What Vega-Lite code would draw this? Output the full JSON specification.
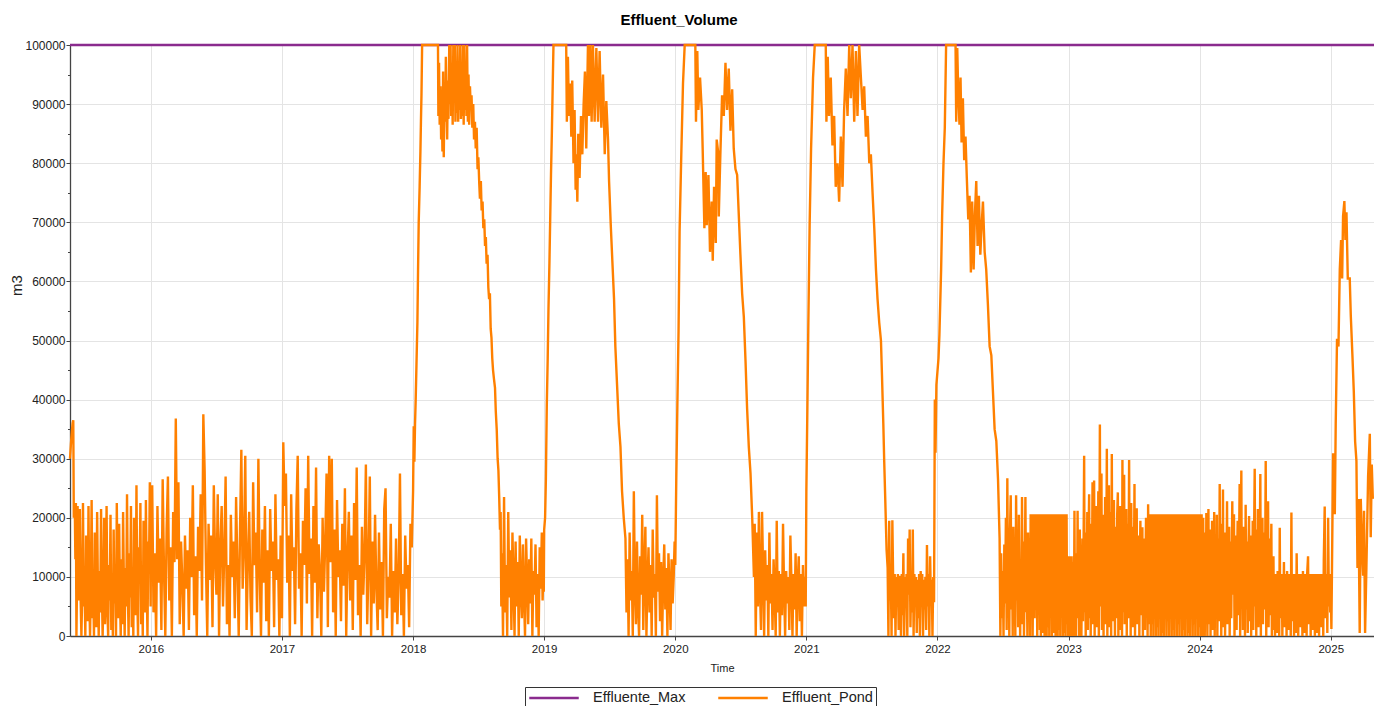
{
  "$schema": "https://vega.github.io/schema/vega-lite/v6.json",
  "width": 1304,
  "height": 591,
  "autosize": {"type": "none"},
  "padding": {"left": 70, "top": 45, "right": 0, "bottom": 70},
  "background": "white",
  "title": {
    "text": "Effluent_Volume",
    "font": "Liberation Sans",
    "fontSize": 15,
    "fontWeight": "bold",
    "color": "#000000",
    "anchor": "middle",
    "baseline": "alphabetic",
    "dx": -43,
    "dy": 14,
    "offset": 13
  },
  "config": {
    "font": "Liberation Sans",
    "view": {"stroke": null},
    "axis": {
      "gridColor": "#e4e4e4",
      "gridWidth": 1,
      "labelColor": "#222222",
      "titleColor": "#222222",
      "titleFontWeight": "normal",
      "tickColor": "#444444",
      "domainColor": "#444444",
      "domainWidth": 1.3
    },
    "legend": {
      "orient": "none",
      "legendX": 455,
      "legendY": 642,
      "direction": "horizontal",
      "strokeColor": "#333333",
      "fillColor": "white",
      "padding": 3,
      "symbolType": "stroke",
      "symbolSize": 2450,
      "symbolStrokeWidth": 2.5,
      "clipHeight": 16,
      "labelFontSize": 14.5,
      "labelColor": "#222222",
      "labelOffset": 13,
      "columnPadding": 31,
      "labelLimit": 300
    }
  },
  "datasets": {
    "maxline": [
      {"t": 2015.383, "v": 100000},
      {"t": 2025.33, "v": 100000}
    ],
    "pond": [
      {"t":2015.383,"v":30000},{"t":2015.390,"v":32500},{"t":2015.397,"v":34500},{"t":2015.403,"v":36000},{"t":2015.408,"v":36500},{"t":2015.412,"v":20000},{"t":2015.416,"v":22000},{"t":2015.420,"v":21000},{"t":2015.424,"v":13000},{"t":2015.428,"v":22500},{"t":2015.432,"v":0},{"t":2015.436,"v":7500},{"t":2015.441,"v":22000},{"t":2015.446,"v":6000},{"t":2015.452,"v":8000},{"t":2015.458,"v":21500},{"t":2015.464,"v":6500},{"t":2015.470,"v":0},{"t":2015.476,"v":7000},{"t":2015.482,"v":22500},{"t":2015.488,"v":5000},{"t":2015.494,"v":8500},{"t":2015.500,"v":0},{"t":2015.506,"v":17000},{"t":2015.512,"v":7000},{"t":2015.518,"v":2500},{"t":2015.524,"v":22000},{"t":2015.530,"v":6500},{"t":2015.536,"v":0},{"t":2015.542,"v":9000},{"t":2015.548,"v":23000},{"t":2015.554,"v":3000},{"t":2015.560,"v":8000},{"t":2015.566,"v":0},{"t":2015.572,"v":17500},{"t":2015.578,"v":6000},{"t":2015.584,"v":1500},{"t":2015.590,"v":21000},{"t":2015.596,"v":7500},{"t":2015.602,"v":0},{"t":2015.608,"v":11000},{"t":2015.614,"v":4000},{"t":2015.620,"v":21500},{"t":2015.626,"v":8000},{"t":2015.632,"v":0},{"t":2015.638,"v":6500},{"t":2015.644,"v":20000},{"t":2015.650,"v":2000},{"t":2015.656,"v":7000},{"t":2015.662,"v":22000},{"t":2015.668,"v":5000},{"t":2015.674,"v":0},{"t":2015.680,"v":12000},{"t":2015.686,"v":6000},{"t":2015.692,"v":20500},{"t":2015.698,"v":1000},{"t":2015.704,"v":9000},{"t":2015.710,"v":0},{"t":2015.716,"v":18000},{"t":2015.722,"v":5500},{"t":2015.728,"v":10500},{"t":2015.734,"v":0},{"t":2015.740,"v":22500},{"t":2015.746,"v":7000},{"t":2015.752,"v":3000},{"t":2015.758,"v":19000},{"t":2015.764,"v":6500},{"t":2015.770,"v":0},{"t":2015.776,"v":13000},{"t":2015.782,"v":2000},{"t":2015.788,"v":21000},{"t":2015.794,"v":9000},{"t":2015.800,"v":0},{"t":2015.806,"v":11500},{"t":2015.812,"v":5000},{"t":2015.818,"v":24000},{"t":2015.824,"v":8000},{"t":2015.830,"v":0},{"t":2015.836,"v":14000},{"t":2015.842,"v":6500},{"t":2015.848,"v":22000},{"t":2015.854,"v":1500},{"t":2015.860,"v":10000},{"t":2015.866,"v":0},{"t":2015.872,"v":20000},{"t":2015.878,"v":8500},{"t":2015.884,"v":3500},{"t":2015.890,"v":25500},{"t":2015.896,"v":7000},{"t":2015.902,"v":0},{"t":2015.908,"v":15000},{"t":2015.914,"v":9500},{"t":2015.920,"v":22500},{"t":2015.926,"v":2000},{"t":2015.932,"v":12000},{"t":2015.938,"v":0},{"t":2015.944,"v":19500},{"t":2015.950,"v":11000},{"t":2015.956,"v":4000},{"t":2015.962,"v":23000},{"t":2015.968,"v":9000},{"t":2015.974,"v":0},{"t":2015.980,"v":16000},{"t":2015.986,"v":12500},{"t":2015.992,"v":26000},{"t":2015.998,"v":5000},
      {"t":2016.00,"v":12000},{"t":2016.01,"v":25500},{"t":2016.02,"v":4000},{"t":2016.03,"v":14000},{"t":2016.04,"v":0},{"t":2016.05,"v":22000},{"t":2016.06,"v":9000},{"t":2016.07,"v":16500},{"t":2016.08,"v":1000},{"t":2016.09,"v":26500},{"t":2016.10,"v":11000},{"t":2016.11,"v":0},{"t":2016.12,"v":18000},{"t":2016.13,"v":27000},{"t":2016.14,"v":6000},{"t":2016.15,"v":15000},{"t":2016.16,"v":0},{"t":2016.17,"v":21000},{"t":2016.18,"v":12500},{"t":2016.19,"v":36800},{"t":2016.20,"v":13000},{"t":2016.21,"v":26000},{"t":2016.22,"v":2000},{"t":2016.23,"v":16000},{"t":2016.24,"v":9000},{"t":2016.25,"v":0},{"t":2016.26,"v":17000},{"t":2016.27,"v":8000},{"t":2016.28,"v":14500},{"t":2016.29,"v":1000},{"t":2016.30,"v":20000},{"t":2016.31,"v":10000},{"t":2016.32,"v":25500},{"t":2016.33,"v":3500},{"t":2016.34,"v":13500},{"t":2016.35,"v":0},{"t":2016.36,"v":18500},{"t":2016.37,"v":11000},{"t":2016.38,"v":24000},{"t":2016.39,"v":6000},{"t":2016.40,"v":37500},{"t":2016.41,"v":28000},{"t":2016.42,"v":12000},{"t":2016.43,"v":0},{"t":2016.44,"v":19000},{"t":2016.45,"v":9500},{"t":2016.46,"v":17000},{"t":2016.47,"v":1500},{"t":2016.48,"v":25500},{"t":2016.49,"v":13000},{"t":2016.50,"v":7000},{"t":2016.51,"v":24000},{"t":2016.52,"v":0},{"t":2016.53,"v":15500},{"t":2016.54,"v":22000},{"t":2016.55,"v":5000},{"t":2016.56,"v":14000},{"t":2016.57,"v":27000},{"t":2016.58,"v":2000},{"t":2016.59,"v":12000},{"t":2016.60,"v":0},{"t":2016.61,"v":20500},{"t":2016.62,"v":10000},{"t":2016.63,"v":16000},{"t":2016.64,"v":3000},{"t":2016.65,"v":23500},{"t":2016.66,"v":11500},{"t":2016.67,"v":0},{"t":2016.68,"v":18000},{"t":2016.69,"v":31500},{"t":2016.70,"v":8000},{"t":2016.71,"v":15000},{"t":2016.72,"v":30500},{"t":2016.73,"v":1000},{"t":2016.74,"v":13000},{"t":2016.75,"v":21000},{"t":2016.76,"v":6500},{"t":2016.77,"v":0},{"t":2016.78,"v":26000},{"t":2016.79,"v":12000},{"t":2016.80,"v":17500},{"t":2016.81,"v":4000},{"t":2016.82,"v":30000},{"t":2016.83,"v":10500},{"t":2016.84,"v":0},{"t":2016.85,"v":18000},{"t":2016.86,"v":9000},{"t":2016.87,"v":22000},{"t":2016.88,"v":2500},{"t":2016.89,"v":14500},{"t":2016.90,"v":0},{"t":2016.91,"v":21500},{"t":2016.92,"v":11000},{"t":2016.93,"v":16000},{"t":2016.94,"v":1500},{"t":2016.95,"v":24000},{"t":2016.96,"v":9500},{"t":2016.97,"v":13000},{"t":2016.98,"v":0},{"t":2016.99,"v":17000},
      {"t":2017.00,"v":3000},{"t":2017.01,"v":32800},{"t":2017.02,"v":22000},{"t":2017.03,"v":27500},{"t":2017.04,"v":9000},{"t":2017.05,"v":17000},{"t":2017.06,"v":0},{"t":2017.07,"v":24000},{"t":2017.08,"v":11000},{"t":2017.09,"v":15000},{"t":2017.10,"v":2000},{"t":2017.11,"v":21500},{"t":2017.12,"v":30500},{"t":2017.13,"v":8000},{"t":2017.14,"v":14000},{"t":2017.15,"v":0},{"t":2017.16,"v":19500},{"t":2017.17,"v":12000},{"t":2017.18,"v":25000},{"t":2017.19,"v":5500},{"t":2017.20,"v":30500},{"t":2017.21,"v":10500},{"t":2017.22,"v":16500},{"t":2017.23,"v":0},{"t":2017.24,"v":22000},{"t":2017.25,"v":9000},{"t":2017.26,"v":28500},{"t":2017.27,"v":3000},{"t":2017.28,"v":15500},{"t":2017.29,"v":11000},{"t":2017.30,"v":0},{"t":2017.31,"v":20000},{"t":2017.32,"v":7500},{"t":2017.33,"v":16000},{"t":2017.34,"v":27500},{"t":2017.35,"v":1500},{"t":2017.36,"v":30500},{"t":2017.37,"v":12500},{"t":2017.38,"v":30000},{"t":2017.39,"v":4000},{"t":2017.40,"v":18000},{"t":2017.41,"v":0},{"t":2017.42,"v":23000},{"t":2017.43,"v":10000},{"t":2017.44,"v":14500},{"t":2017.45,"v":2500},{"t":2017.46,"v":19000},{"t":2017.47,"v":8500},{"t":2017.48,"v":25000},{"t":2017.49,"v":0},{"t":2017.50,"v":13500},{"t":2017.51,"v":21000},{"t":2017.52,"v":6000},{"t":2017.53,"v":17000},{"t":2017.54,"v":1000},{"t":2017.55,"v":22500},{"t":2017.56,"v":9500},{"t":2017.57,"v":28500},{"t":2017.58,"v":3500},{"t":2017.59,"v":12000},{"t":2017.60,"v":0},{"t":2017.61,"v":18500},{"t":2017.62,"v":7000},{"t":2017.63,"v":14000},{"t":2017.64,"v":29000},{"t":2017.65,"v":2000},{"t":2017.66,"v":11500},{"t":2017.67,"v":27000},{"t":2017.68,"v":0},{"t":2017.69,"v":16000},{"t":2017.70,"v":5500},{"t":2017.71,"v":20500},{"t":2017.72,"v":8000},{"t":2017.73,"v":1000},{"t":2017.74,"v":17500},{"t":2017.75,"v":4500},{"t":2017.76,"v":12500},{"t":2017.77,"v":0},{"t":2017.78,"v":21500},{"t":2017.79,"v":25000},{"t":2017.80,"v":3000},{"t":2017.81,"v":10000},{"t":2017.82,"v":6500},{"t":2017.83,"v":19000},{"t":2017.84,"v":0},{"t":2017.85,"v":11000},{"t":2017.86,"v":4000},{"t":2017.87,"v":16500},{"t":2017.88,"v":2000},{"t":2017.89,"v":9500},{"t":2017.90,"v":27500},{"t":2017.91,"v":3500},{"t":2017.92,"v":10500},{"t":2017.93,"v":0},{"t":2017.94,"v":17000},{"t":2017.95,"v":8000},{"t":2017.96,"v":12000},{"t":2017.97,"v":1500},{"t":2017.98,"v":19000},{"t":2017.99,"v":15000},
      {"t":2018.000,"v":24500},{"t":2018.005,"v":35500},{"t":2018.010,"v":29500},{"t":2018.015,"v":36000},{"t":2018.020,"v":40000},{"t":2018.026,"v":46000},{"t":2018.033,"v":53000},{"t":2018.038,"v":62000},{"t":2018.043,"v":70000},{"t":2018.050,"v":76000},{"t":2018.056,"v":82000},{"t":2018.060,"v":87000},{"t":2018.064,"v":91500},{"t":2018.069,"v":100000},{"t":2018.190,"v":100000},
      {"t":2018.193,"v":88000},{"t":2018.198,"v":97000},{"t":2018.203,"v":86500},{"t":2018.209,"v":93000},{"t":2018.214,"v":84000},{"t":2018.219,"v":90000},{"t":2018.224,"v":82000},{"t":2018.229,"v":95500},{"t":2018.234,"v":81000},{"t":2018.239,"v":91000},{"t":2018.245,"v":87000},{"t":2018.250,"v":98000},{"t":2018.255,"v":89500},{"t":2018.260,"v":84000},{"t":2018.265,"v":94000},{"t":2018.270,"v":87500},{"t":2018.276,"v":100000},{"t":2018.281,"v":90000},{"t":2018.286,"v":100000},{"t":2018.291,"v":88000},{"t":2018.297,"v":97000},{"t":2018.302,"v":86500},{"t":2018.307,"v":100000},{"t":2018.312,"v":91000},{"t":2018.318,"v":100000},{"t":2018.323,"v":87000},{"t":2018.328,"v":95000},{"t":2018.333,"v":88500},{"t":2018.339,"v":100000},{"t":2018.344,"v":87000},{"t":2018.349,"v":96500},{"t":2018.354,"v":89000},{"t":2018.360,"v":100000},{"t":2018.365,"v":87500},{"t":2018.370,"v":94000},{"t":2018.375,"v":88000},{"t":2018.381,"v":100000},{"t":2018.386,"v":86500},{"t":2018.391,"v":100000},{"t":2018.397,"v":89000},{"t":2018.402,"v":97000},{"t":2018.407,"v":88000},{"t":2018.412,"v":100000},{"t":2018.418,"v":87000},{"t":2018.423,"v":95000},{"t":2018.428,"v":86500},{"t":2018.434,"v":93000},{"t":2018.440,"v":89000},{"t":2018.446,"v":91500},{"t":2018.452,"v":86000},{"t":2018.459,"v":90000},{"t":2018.465,"v":84000},{"t":2018.472,"v":87000},{"t":2018.478,"v":82500},{"t":2018.485,"v":86000},{"t":2018.492,"v":79000},{"t":2018.498,"v":81000},{"t":2018.505,"v":76500},{"t":2018.510,"v":74000},{"t":2018.517,"v":77000},{"t":2018.523,"v":72000},{"t":2018.530,"v":73500},{"t":2018.536,"v":69000},{"t":2018.543,"v":70500},{"t":2018.549,"v":66000},{"t":2018.555,"v":67500},{"t":2018.561,"v":63000},{"t":2018.568,"v":64500},{"t":2018.574,"v":59000},{"t":2018.580,"v":57000},{"t":2018.586,"v":58000},{"t":2018.592,"v":52000},{"t":2018.598,"v":50500},{"t":2018.604,"v":47000},{"t":2018.610,"v":45000},{"t":2018.617,"v":43500},{"t":2018.625,"v":42000},{"t":2018.631,"v":38000},{"t":2018.638,"v":35000},{"t":2018.645,"v":30000},{"t":2018.651,"v":28000},{"t":2018.657,"v":23500},{"t":2018.663,"v":18000},{"t":2018.668,"v":21000},{"t":2018.673,"v":5000},
      {"t":2018.678,"v":14000},{"t":2018.686,"v":0},{"t":2018.694,"v":23500},{"t":2018.702,"v":4000},{"t":2018.710,"v":12000},{"t":2018.718,"v":0},{"t":2018.726,"v":21000},{"t":2018.734,"v":6500},{"t":2018.742,"v":14500},{"t":2018.750,"v":1000},{"t":2018.758,"v":17500},{"t":2018.766,"v":9000},{"t":2018.774,"v":0},{"t":2018.782,"v":16000},{"t":2018.790,"v":5000},{"t":2018.798,"v":12500},{"t":2018.806,"v":0},{"t":2018.814,"v":17000},{"t":2018.822,"v":8000},{"t":2018.830,"v":3000},{"t":2018.838,"v":15500},{"t":2018.846,"v":6500},{"t":2018.854,"v":0},{"t":2018.862,"v":16500},{"t":2018.870,"v":9500},{"t":2018.878,"v":2000},{"t":2018.886,"v":13000},{"t":2018.894,"v":5500},{"t":2018.902,"v":16500},{"t":2018.910,"v":0},{"t":2018.918,"v":11000},{"t":2018.926,"v":7000},{"t":2018.934,"v":15500},{"t":2018.942,"v":1500},{"t":2018.950,"v":10500},{"t":2018.958,"v":0},{"t":2018.966,"v":15000},{"t":2018.974,"v":8000},{"t":2018.982,"v":17500},{"t":2018.988,"v":6000},{"t":2018.994,"v":11000},{"t":2018.997,"v":7500},
      {"t":2019.000,"v":18000},{"t":2019.007,"v":20000},{"t":2019.013,"v":26500},{"t":2019.020,"v":39000},{"t":2019.027,"v":47000},{"t":2019.033,"v":55500},{"t":2019.040,"v":63000},{"t":2019.046,"v":70500},{"t":2019.052,"v":78000},{"t":2019.059,"v":85500},{"t":2019.065,"v":93000},{"t":2019.071,"v":100000},{"t":2019.168,"v":100000},
      {"t":2019.173,"v":87000},{"t":2019.181,"v":98000},{"t":2019.189,"v":88000},{"t":2019.199,"v":93500},{"t":2019.207,"v":84500},{"t":2019.214,"v":94000},{"t":2019.224,"v":80000},{"t":2019.232,"v":89000},{"t":2019.240,"v":75500},{"t":2019.245,"v":81500},{"t":2019.253,"v":73500},{"t":2019.260,"v":85000},{"t":2019.270,"v":77500},{"t":2019.281,"v":88000},{"t":2019.291,"v":81500},{"t":2019.301,"v":90000},{"t":2019.311,"v":95500},{"t":2019.321,"v":82500},{"t":2019.334,"v":100000},{"t":2019.342,"v":88000},{"t":2019.352,"v":100000},{"t":2019.362,"v":87000},{"t":2019.372,"v":100000},{"t":2019.385,"v":87000},{"t":2019.398,"v":99500},{"t":2019.411,"v":87000},{"t":2019.423,"v":99000},{"t":2019.436,"v":86000},{"t":2019.449,"v":95000},{"t":2019.462,"v":81500},{"t":2019.474,"v":90500},{"t":2019.487,"v":84000},{"t":2019.495,"v":77000},{"t":2019.508,"v":69500},{"t":2019.520,"v":63500},{"t":2019.533,"v":57000},{"t":2019.543,"v":49000},{"t":2019.556,"v":42500},{"t":2019.569,"v":36000},{"t":2019.582,"v":32000},{"t":2019.594,"v":24500},{"t":2019.607,"v":20000},{"t":2019.620,"v":16500},{"t":2019.628,"v":4000},
      {"t":2019.636,"v":13000},{"t":2019.644,"v":0},{"t":2019.652,"v":17500},{"t":2019.660,"v":6000},{"t":2019.668,"v":11000},{"t":2019.676,"v":0},{"t":2019.684,"v":24500},{"t":2019.692,"v":8500},{"t":2019.700,"v":2000},{"t":2019.708,"v":16000},{"t":2019.716,"v":5000},{"t":2019.724,"v":0},{"t":2019.732,"v":13500},{"t":2019.740,"v":7000},{"t":2019.748,"v":20500},{"t":2019.756,"v":1000},{"t":2019.764,"v":11000},{"t":2019.772,"v":18500},{"t":2019.780,"v":0},{"t":2019.788,"v":9000},{"t":2019.796,"v":15000},{"t":2019.804,"v":4000},{"t":2019.812,"v":12000},{"t":2019.820,"v":0},{"t":2019.828,"v":18000},{"t":2019.836,"v":6500},{"t":2019.844,"v":10500},{"t":2019.852,"v":0},{"t":2019.860,"v":23800},{"t":2019.868,"v":7500},{"t":2019.876,"v":14000},{"t":2019.884,"v":2500},{"t":2019.892,"v":12500},{"t":2019.900,"v":0},{"t":2019.908,"v":9500},{"t":2019.916,"v":15500},{"t":2019.924,"v":4500},{"t":2019.932,"v":11500},{"t":2019.940,"v":0},{"t":2019.948,"v":14000},{"t":2019.956,"v":8000},{"t":2019.964,"v":1000},{"t":2019.972,"v":13000},{"t":2019.980,"v":5500},{"t":2019.988,"v":10000},{"t":2019.995,"v":16000},
      {"t":2020.000,"v":12000},{"t":2020.008,"v":27000},{"t":2020.016,"v":39000},{"t":2020.025,"v":51500},{"t":2020.033,"v":68500},{"t":2020.046,"v":81500},{"t":2020.059,"v":93500},{"t":2020.072,"v":100000},{"t":2020.153,"v":100000},
      {"t":2020.158,"v":87000},{"t":2020.168,"v":99000},{"t":2020.176,"v":89000},{"t":2020.189,"v":94500},{"t":2020.202,"v":89000},{"t":2020.209,"v":82500},{"t":2020.222,"v":69000},{"t":2020.232,"v":78500},{"t":2020.240,"v":69500},{"t":2020.253,"v":78000},{"t":2020.265,"v":65000},{"t":2020.278,"v":73500},{"t":2020.286,"v":63500},{"t":2020.296,"v":76000},{"t":2020.309,"v":66500},{"t":2020.316,"v":84000},{"t":2020.329,"v":81500},{"t":2020.332,"v":71000},{"t":2020.344,"v":81500},{"t":2020.357,"v":91500},{"t":2020.370,"v":88000},{"t":2020.383,"v":97000},{"t":2020.395,"v":89000},{"t":2020.408,"v":96000},{"t":2020.421,"v":85500},{"t":2020.434,"v":92500},{"t":2020.446,"v":82500},{"t":2020.459,"v":79000},{"t":2020.472,"v":78000},{"t":2020.485,"v":71000},{"t":2020.497,"v":64500},{"t":2020.510,"v":58000},{"t":2020.523,"v":54000},{"t":2020.536,"v":46500},{"t":2020.548,"v":38500},{"t":2020.561,"v":32000},{"t":2020.574,"v":27500},{"t":2020.587,"v":20000},{"t":2020.600,"v":10000},
      {"t":2020.606,"v":19000},{"t":2020.614,"v":0},{"t":2020.622,"v":17500},{"t":2020.630,"v":5000},{"t":2020.638,"v":21000},{"t":2020.646,"v":8000},{"t":2020.654,"v":1000},{"t":2020.662,"v":21000},{"t":2020.670,"v":11000},{"t":2020.678,"v":0},{"t":2020.686,"v":14500},{"t":2020.694,"v":6000},{"t":2020.702,"v":12000},{"t":2020.710,"v":0},{"t":2020.718,"v":17500},{"t":2020.726,"v":5500},{"t":2020.734,"v":10500},{"t":2020.742,"v":1000},{"t":2020.750,"v":13000},{"t":2020.758,"v":7500},{"t":2020.766,"v":0},{"t":2020.774,"v":19500},{"t":2020.782,"v":4000},{"t":2020.790,"v":11000},{"t":2020.798,"v":0},{"t":2020.806,"v":10500},{"t":2020.814,"v":3500},{"t":2020.822,"v":19000},{"t":2020.830,"v":8000},{"t":2020.838,"v":0},{"t":2020.846,"v":11000},{"t":2020.854,"v":5500},{"t":2020.862,"v":10000},{"t":2020.870,"v":1000},{"t":2020.878,"v":17000},{"t":2020.886,"v":9500},{"t":2020.894,"v":0},{"t":2020.902,"v":10500},{"t":2020.910,"v":4500},{"t":2020.918,"v":14000},{"t":2020.926,"v":0},{"t":2020.934,"v":9000},{"t":2020.942,"v":13500},{"t":2020.950,"v":2500},{"t":2020.958,"v":10500},{"t":2020.966,"v":0},{"t":2020.974,"v":12000},{"t":2020.982,"v":5000},{"t":2020.990,"v":10000},{"t":2020.995,"v":5000},
      {"t":2021.000,"v":24500},{"t":2021.008,"v":39000},{"t":2021.015,"v":52500},{"t":2021.025,"v":69500},{"t":2021.036,"v":82500},{"t":2021.051,"v":94500},{"t":2021.064,"v":100000},{"t":2021.148,"v":100000},
      {"t":2021.153,"v":87000},{"t":2021.163,"v":98000},{"t":2021.173,"v":88000},{"t":2021.186,"v":94500},{"t":2021.199,"v":83000},{"t":2021.212,"v":88000},{"t":2021.224,"v":76000},{"t":2021.237,"v":80000},{"t":2021.250,"v":73500},{"t":2021.263,"v":84500},{"t":2021.276,"v":76000},{"t":2021.288,"v":89000},{"t":2021.301,"v":96000},{"t":2021.314,"v":88000},{"t":2021.327,"v":100000},{"t":2021.339,"v":91000},{"t":2021.352,"v":100000},{"t":2021.365,"v":87000},{"t":2021.378,"v":99000},{"t":2021.390,"v":88000},{"t":2021.403,"v":100000},{"t":2021.416,"v":94500},{"t":2021.429,"v":89000},{"t":2021.441,"v":93000},{"t":2021.454,"v":84500},{"t":2021.467,"v":88000},{"t":2021.480,"v":80000},{"t":2021.492,"v":81500},{"t":2021.505,"v":75000},{"t":2021.518,"v":69000},{"t":2021.531,"v":62000},{"t":2021.543,"v":57000},{"t":2021.556,"v":53000},{"t":2021.569,"v":50000},{"t":2021.577,"v":44000},{"t":2021.587,"v":36000},{"t":2021.594,"v":29500},{"t":2021.602,"v":23000},{"t":2021.612,"v":14500},{"t":2021.620,"v":11500},
      {"t":2021.626,"v":0},{"t":2021.632,"v":19500},{"t":2021.638,"v":6000},{"t":2021.644,"v":10500},{"t":2021.650,"v":0},{"t":2021.656,"v":19600},{"t":2021.662,"v":9500},{"t":2021.668,"v":3000},{"t":2021.674,"v":10500},{"t":2021.680,"v":0},{"t":2021.686,"v":10000},{"t":2021.692,"v":5000},{"t":2021.698,"v":10500},{"t":2021.704,"v":1000},{"t":2021.710,"v":10200},{"t":2021.716,"v":6500},{"t":2021.722,"v":0},{"t":2021.728,"v":10500},{"t":2021.734,"v":3500},{"t":2021.740,"v":14000},{"t":2021.746,"v":0},{"t":2021.752,"v":10000},{"t":2021.758,"v":5500},{"t":2021.764,"v":10500},{"t":2021.770,"v":0},{"t":2021.776,"v":16500},{"t":2021.782,"v":7000},{"t":2021.788,"v":18000},{"t":2021.794,"v":1500},{"t":2021.800,"v":10000},{"t":2021.806,"v":4000},{"t":2021.812,"v":18000},{"t":2021.818,"v":0},{"t":2021.824,"v":10500},{"t":2021.830,"v":6000},{"t":2021.836,"v":10000},{"t":2021.842,"v":500},{"t":2021.848,"v":9500},{"t":2021.854,"v":3000},{"t":2021.860,"v":10500},{"t":2021.866,"v":0},{"t":2021.872,"v":11000},{"t":2021.878,"v":7000},{"t":2021.884,"v":10500},{"t":2021.890,"v":0},{"t":2021.896,"v":9500},{"t":2021.902,"v":4500},{"t":2021.908,"v":10000},{"t":2021.914,"v":1000},{"t":2021.920,"v":15400},{"t":2021.926,"v":5000},{"t":2021.932,"v":10500},{"t":2021.938,"v":0},{"t":2021.944,"v":13500},{"t":2021.950,"v":6000},{"t":2021.956,"v":9500},{"t":2021.962,"v":0},{"t":2021.968,"v":10000},{"t":2021.974,"v":5700},
      {"t":2021.980,"v":40000},{"t":2021.985,"v":31000},{"t":2021.992,"v":42500},{"t":2022.008,"v":47000},{"t":2022.015,"v":51000},{"t":2022.028,"v":62000},{"t":2022.036,"v":71500},{"t":2022.046,"v":80000},{"t":2022.056,"v":86000},{"t":2022.066,"v":100000},{"t":2022.138,"v":100000},
      {"t":2022.143,"v":87000},{"t":2022.151,"v":99500},{"t":2022.158,"v":92500},{"t":2022.168,"v":86500},{"t":2022.176,"v":94500},{"t":2022.184,"v":83500},{"t":2022.194,"v":91000},{"t":2022.204,"v":80500},{"t":2022.214,"v":84500},{"t":2022.224,"v":77500},{"t":2022.235,"v":70500},{"t":2022.245,"v":74500},{"t":2022.255,"v":61500},{"t":2022.265,"v":73500},{"t":2022.276,"v":62000},{"t":2022.286,"v":71500},{"t":2022.296,"v":77000},{"t":2022.306,"v":66000},{"t":2022.316,"v":74500},{"t":2022.327,"v":64500},{"t":2022.337,"v":69500},{"t":2022.347,"v":73500},{"t":2022.360,"v":65000},{"t":2022.372,"v":62000},{"t":2022.385,"v":56000},{"t":2022.398,"v":49000},{"t":2022.411,"v":47500},{"t":2022.423,"v":41500},{"t":2022.436,"v":35000},{"t":2022.449,"v":33000},{"t":2022.462,"v":26500},{"t":2022.474,"v":16500},
      {"t":2022.480,"v":0},{"t":2022.486,"v":14000},{"t":2022.492,"v":3000},{"t":2022.498,"v":11000},{"t":2022.504,"v":0},{"t":2022.510,"v":15500},{"t":2022.516,"v":5500},{"t":2022.522,"v":20000},{"t":2022.528,"v":1000},{"t":2022.533,"v":26700},{"t":2022.538,"v":8000},{"t":2022.543,"v":13000},{"t":2022.548,"v":0},{"t":2022.553,"v":17500},{"t":2022.559,"v":23800},{"t":2022.564,"v":4500},{"t":2022.569,"v":12000},{"t":2022.574,"v":0},{"t":2022.579,"v":18500},{"t":2022.584,"v":7000},{"t":2022.589,"v":11500},{"t":2022.594,"v":0},{"t":2022.600,"v":23800},{"t":2022.606,"v":6000},{"t":2022.611,"v":14500},{"t":2022.616,"v":1500},{"t":2022.621,"v":20500},{"t":2022.626,"v":9000},{"t":2022.631,"v":0},{"t":2022.636,"v":13000},{"t":2022.641,"v":5000},{"t":2022.645,"v":23500},{"t":2022.650,"v":2000},{"t":2022.655,"v":16000},{"t":2022.660,"v":0},{"t":2022.666,"v":10500},{"t":2022.671,"v":23500},{"t":2022.676,"v":4000},{"t":2022.681,"v":12500},{"t":2022.686,"v":0},{"t":2022.691,"v":17500},{"t":2022.696,"v":8500},{"t":2022.701,"v":13000},{"t":2022.706,"v":0},{"t":2022.711,"v":20600},{"t":2022.716,"v":5000},{"t":2022.721,"v":20600},{"t":2022.726,"v":0},{"t":2022.731,"v":13500},{"t":2022.736,"v":20600},{"t":2022.741,"v":3000},{"t":2022.746,"v":20600},{"t":2022.751,"v":9000},{"t":2022.756,"v":20600},{"t":2022.761,"v":0},{"t":2022.766,"v":20600},{"t":2022.771,"v":11000},{"t":2022.776,"v":20600},{"t":2022.781,"v":1000},
      {"t":2022.785,"v":20600},{"t":2022.789,"v":0},{"t":2022.793,"v":13000},{"t":2022.797,"v":20600},{"t":2022.801,"v":500},{"t":2022.805,"v":20600},{"t":2022.809,"v":3000},{"t":2022.813,"v":13000},{"t":2022.817,"v":0},{"t":2022.821,"v":20600},{"t":2022.825,"v":6000},{"t":2022.829,"v":20600},{"t":2022.833,"v":0},{"t":2022.837,"v":13000},{"t":2022.841,"v":20600},{"t":2022.845,"v":1500},{"t":2022.849,"v":20600},{"t":2022.853,"v":0},{"t":2022.857,"v":13000},{"t":2022.861,"v":20600},{"t":2022.865,"v":4000},{"t":2022.869,"v":20600},{"t":2022.873,"v":0},{"t":2022.877,"v":12500},{"t":2022.881,"v":20600},{"t":2022.885,"v":500},{"t":2022.889,"v":20600},{"t":2022.893,"v":7000},{"t":2022.897,"v":13000},{"t":2022.901,"v":0},{"t":2022.905,"v":20600},{"t":2022.909,"v":2000},{"t":2022.913,"v":20600},{"t":2022.917,"v":0},{"t":2022.921,"v":13000},{"t":2022.925,"v":20600},{"t":2022.929,"v":1000},{"t":2022.933,"v":20600},{"t":2022.937,"v":0},{"t":2022.941,"v":13000},{"t":2022.945,"v":20600},{"t":2022.949,"v":3500},{"t":2022.953,"v":20600},{"t":2022.957,"v":0},{"t":2022.961,"v":13000},{"t":2022.965,"v":20600},{"t":2022.969,"v":500},{"t":2022.973,"v":20600},{"t":2022.977,"v":0},{"t":2022.981,"v":13000},{"t":2022.985,"v":20600},{"t":2022.989,"v":2000},
      {"t":2022.993,"v":13500},{"t":2022.997,"v":0},{"t":2023.001,"v":13500},{"t":2023.005,"v":4000},{"t":2023.009,"v":13000},{"t":2023.013,"v":0},{"t":2023.017,"v":13500},{"t":2023.021,"v":1000},{"t":2023.025,"v":12500},{"t":2023.029,"v":0},{"t":2023.033,"v":9000},{"t":2023.037,"v":13500},{"t":2023.041,"v":0},{"t":2023.045,"v":21200},{"t":2023.049,"v":2000},
      {"t":2023.053,"v":10000},{"t":2023.057,"v":0},{"t":2023.061,"v":14000},{"t":2023.065,"v":3000},{"t":2023.069,"v":21200},{"t":2023.073,"v":6000},{"t":2023.077,"v":12000},{"t":2023.081,"v":0},{"t":2023.086,"v":18000},{"t":2023.090,"v":5000},{"t":2023.094,"v":14500},{"t":2023.098,"v":0},{"t":2023.102,"v":10500},{"t":2023.106,"v":16500},{"t":2023.110,"v":2500},{"t":2023.114,"v":13000},{"t":2023.119,"v":30500},{"t":2023.123,"v":4000},{"t":2023.127,"v":12500},{"t":2023.131,"v":0},{"t":2023.135,"v":17500},{"t":2023.139,"v":7000},{"t":2023.143,"v":21000},{"t":2023.147,"v":1000},{"t":2023.151,"v":14000},{"t":2023.157,"v":24000},{"t":2023.161,"v":3000},{"t":2023.165,"v":15500},{"t":2023.169,"v":0},{"t":2023.173,"v":19000},{"t":2023.178,"v":8500},{"t":2023.183,"v":26000},{"t":2023.187,"v":2000},{"t":2023.191,"v":13500},{"t":2023.195,"v":26300},{"t":2023.199,"v":0},{"t":2023.203,"v":16000},{"t":2023.207,"v":6000},{"t":2023.211,"v":22000},{"t":2023.215,"v":1500},{"t":2023.219,"v":14000},{"t":2023.223,"v":9000},{"t":2023.227,"v":24500},{"t":2023.231,"v":0},{"t":2023.235,"v":15000},{"t":2023.239,"v":35800},{"t":2023.243,"v":5000},{"t":2023.247,"v":18000},{"t":2023.251,"v":27500},{"t":2023.255,"v":1000},{"t":2023.259,"v":14500},{"t":2023.263,"v":20500},{"t":2023.267,"v":0},{"t":2023.271,"v":16500},{"t":2023.275,"v":7500},{"t":2023.279,"v":23500},{"t":2023.283,"v":2000},{"t":2023.288,"v":12500},{"t":2023.292,"v":31700},{"t":2023.296,"v":0},{"t":2023.300,"v":16000},{"t":2023.304,"v":8000},{"t":2023.308,"v":25500},{"t":2023.312,"v":1500},{"t":2023.316,"v":14000},{"t":2023.320,"v":21000},{"t":2023.325,"v":0},{"t":2023.330,"v":30800},{"t":2023.334,"v":6000},{"t":2023.338,"v":17000},{"t":2023.342,"v":2500},{"t":2023.346,"v":23000},{"t":2023.350,"v":9500},{"t":2023.354,"v":0},{"t":2023.358,"v":18500},{"t":2023.362,"v":13000},{"t":2023.366,"v":3000},{"t":2023.371,"v":20500},{"t":2023.376,"v":24300},{"t":2023.380,"v":0},{"t":2023.384,"v":15000},{"t":2023.388,"v":6500},{"t":2023.392,"v":22000},{"t":2023.396,"v":1000},{"t":2023.400,"v":16500},{"t":2023.404,"v":9000},{"t":2023.408,"v":0},{"t":2023.411,"v":29800},{"t":2023.415,"v":4000},{"t":2023.419,"v":18000},{"t":2023.424,"v":27300},{"t":2023.428,"v":2000},{"t":2023.432,"v":15500},{"t":2023.436,"v":7500},{"t":2023.440,"v":21500},{"t":2023.444,"v":0},{"t":2023.448,"v":14000},{"t":2023.452,"v":19000},{"t":2023.456,"v":3000},{"t":2023.462,"v":29800},{"t":2023.466,"v":8000},{"t":2023.470,"v":16000},{"t":2023.474,"v":0},{"t":2023.478,"v":22500},{"t":2023.482,"v":5500},{"t":2023.486,"v":13000},{"t":2023.490,"v":1500},{"t":2023.494,"v":18500},{"t":2023.498,"v":9000},{"t":2023.503,"v":25700},{"t":2023.507,"v":0},{"t":2023.511,"v":14000},{"t":2023.516,"v":6000},{"t":2023.520,"v":21600},{"t":2023.524,"v":2000},{"t":2023.528,"v":15500},{"t":2023.532,"v":8000},{"t":2023.536,"v":17000},{"t":2023.540,"v":0},{"t":2023.544,"v":12500},{"t":2023.548,"v":19500},{"t":2023.552,"v":3500},{"t":2023.556,"v":14000},{"t":2023.563,"v":18400},{"t":2023.567,"v":0},{"t":2023.571,"v":13000},{"t":2023.575,"v":6000},{"t":2023.579,"v":16500},{"t":2023.583,"v":1000},{"t":2023.587,"v":12000},{"t":2023.591,"v":20000},{"t":2023.595,"v":4000},{"t":2023.599,"v":14500},{"t":2023.603,"v":0},{"t":2023.607,"v":22300},{"t":2023.611,"v":7000},{"t":2023.615,"v":13500},{"t":2023.619,"v":2000},
      {"t":2023.623,"v":20600},{"t":2023.627,"v":0},{"t":2023.631,"v":13000},{"t":2023.635,"v":20600},{"t":2023.639,"v":2000},{"t":2023.643,"v":20600},{"t":2023.647,"v":0},{"t":2023.651,"v":12500},{"t":2023.655,"v":20600},{"t":2023.659,"v":5000},{"t":2023.663,"v":20600},{"t":2023.667,"v":0},{"t":2023.671,"v":13000},{"t":2023.675,"v":20600},{"t":2023.679,"v":1500},{"t":2023.683,"v":20600},{"t":2023.687,"v":0},{"t":2023.691,"v":12500},{"t":2023.695,"v":20600},{"t":2023.699,"v":4000},{"t":2023.703,"v":20600},{"t":2023.707,"v":0},{"t":2023.711,"v":13000},{"t":2023.715,"v":20600},{"t":2023.719,"v":500},{"t":2023.723,"v":20600},{"t":2023.727,"v":0},{"t":2023.731,"v":12500},{"t":2023.735,"v":20600},{"t":2023.739,"v":6000},{"t":2023.743,"v":20600},{"t":2023.747,"v":0},{"t":2023.751,"v":13000},{"t":2023.755,"v":20600},{"t":2023.759,"v":2500},{"t":2023.763,"v":20600},{"t":2023.767,"v":0},{"t":2023.771,"v":12500},{"t":2023.775,"v":20600},{"t":2023.779,"v":3000},{"t":2023.783,"v":20600},{"t":2023.787,"v":0},{"t":2023.791,"v":13000},{"t":2023.795,"v":20600},{"t":2023.799,"v":1000},{"t":2023.803,"v":20600},{"t":2023.807,"v":0},{"t":2023.811,"v":12500},{"t":2023.815,"v":20600},{"t":2023.819,"v":5500},{"t":2023.823,"v":20600},{"t":2023.827,"v":0},{"t":2023.831,"v":13000},{"t":2023.835,"v":20600},{"t":2023.839,"v":2000},{"t":2023.843,"v":20600},{"t":2023.847,"v":0},{"t":2023.851,"v":12500},{"t":2023.855,"v":20600},{"t":2023.859,"v":4500},{"t":2023.863,"v":20600},{"t":2023.867,"v":0},{"t":2023.871,"v":13000},{"t":2023.875,"v":20600},{"t":2023.879,"v":1000},{"t":2023.883,"v":20600},{"t":2023.887,"v":0},{"t":2023.891,"v":12500},{"t":2023.895,"v":20600},{"t":2023.899,"v":3500},{"t":2023.903,"v":20600},{"t":2023.907,"v":0},{"t":2023.911,"v":13000},{"t":2023.915,"v":20600},{"t":2023.919,"v":500},{"t":2023.923,"v":20600},{"t":2023.927,"v":0},{"t":2023.931,"v":12500},{"t":2023.935,"v":20600},{"t":2023.939,"v":6500},{"t":2023.943,"v":20600},{"t":2023.947,"v":0},{"t":2023.951,"v":13000},{"t":2023.955,"v":20600},{"t":2023.959,"v":2000},{"t":2023.963,"v":20600},{"t":2023.967,"v":0},{"t":2023.971,"v":12500},{"t":2023.975,"v":20600},{"t":2023.979,"v":4000},{"t":2023.983,"v":20600},{"t":2023.987,"v":0},{"t":2023.991,"v":13000},{"t":2023.995,"v":20600},{"t":2023.999,"v":1500},{"t":2024.003,"v":20600},{"t":2024.007,"v":0},{"t":2024.011,"v":12500},{"t":2024.015,"v":20600},{"t":2024.019,"v":3000},
      {"t":2024.023,"v":0},{"t":2024.027,"v":20000},{"t":2024.031,"v":5000},{"t":2024.035,"v":12000},{"t":2024.039,"v":0},{"t":2024.043,"v":17500},{"t":2024.047,"v":3000},{"t":2024.051,"v":20800},{"t":2024.055,"v":8000},{"t":2024.059,"v":0},{"t":2024.063,"v":14500},{"t":2024.067,"v":21500},{"t":2024.071,"v":2000},{"t":2024.075,"v":11000},{"t":2024.079,"v":18000},{"t":2024.083,"v":0},{"t":2024.087,"v":13500},{"t":2024.091,"v":6000},{"t":2024.095,"v":19500},{"t":2024.099,"v":1000},{"t":2024.103,"v":15000},{"t":2024.107,"v":9000},{"t":2024.111,"v":21000},{"t":2024.115,"v":0},{"t":2024.119,"v":12500},{"t":2024.123,"v":17000},{"t":2024.127,"v":4000},{"t":2024.131,"v":20500},{"t":2024.135,"v":0},{"t":2024.139,"v":11000},{"t":2024.143,"v":16500},{"t":2024.147,"v":2500},{"t":2024.153,"v":25700},{"t":2024.157,"v":6000},{"t":2024.161,"v":14000},{"t":2024.165,"v":0},{"t":2024.169,"v":19000},{"t":2024.174,"v":9000},{"t":2024.178,"v":24800},{"t":2024.182,"v":1500},{"t":2024.186,"v":13000},{"t":2024.190,"v":17500},{"t":2024.194,"v":0},{"t":2024.198,"v":11500},{"t":2024.202,"v":5000},{"t":2024.209,"v":22800},{"t":2024.213,"v":2000},{"t":2024.217,"v":15000},{"t":2024.221,"v":8000},{"t":2024.225,"v":18500},{"t":2024.229,"v":0},{"t":2024.233,"v":12000},{"t":2024.237,"v":16000},{"t":2024.241,"v":3000},{"t":2024.249,"v":22800},{"t":2024.253,"v":7000},{"t":2024.258,"v":14500},{"t":2024.262,"v":20600},{"t":2024.266,"v":0},{"t":2024.270,"v":11000},{"t":2024.274,"v":5500},{"t":2024.278,"v":17000},{"t":2024.282,"v":1000},{"t":2024.286,"v":13500},{"t":2024.290,"v":19500},{"t":2024.294,"v":3500},{"t":2024.298,"v":9000},{"t":2024.305,"v":25700},{"t":2024.309,"v":0},{"t":2024.313,"v":15000},{"t":2024.318,"v":28000},{"t":2024.322,"v":6000},{"t":2024.326,"v":12500},{"t":2024.330,"v":1000},{"t":2024.334,"v":18500},{"t":2024.338,"v":8500},{"t":2024.342,"v":14000},{"t":2024.346,"v":0},{"t":2024.351,"v":22200},{"t":2024.355,"v":4500},{"t":2024.359,"v":11000},{"t":2024.363,"v":16000},{"t":2024.367,"v":500},{"t":2024.371,"v":13000},{"t":2024.377,"v":20300},{"t":2024.381,"v":2500},{"t":2024.385,"v":10000},{"t":2024.389,"v":17000},{"t":2024.393,"v":0},{"t":2024.397,"v":12000},{"t":2024.401,"v":6500},{"t":2024.405,"v":19500},{"t":2024.409,"v":1000},{"t":2024.414,"v":14500},{"t":2024.420,"v":28300},{"t":2024.424,"v":5000},{"t":2024.428,"v":12500},{"t":2024.432,"v":0},{"t":2024.436,"v":18000},{"t":2024.440,"v":8000},{"t":2024.444,"v":21500},{"t":2024.448,"v":1500},{"t":2024.452,"v":13000},{"t":2024.456,"v":9500},{"t":2024.463,"v":27400},{"t":2024.467,"v":0},{"t":2024.471,"v":15500},{"t":2024.475,"v":7000},{"t":2024.479,"v":20000},{"t":2024.483,"v":2000},{"t":2024.487,"v":12000},{"t":2024.491,"v":17500},{"t":2024.495,"v":4500},{"t":2024.499,"v":10500},{"t":2024.504,"v":29600},{"t":2024.508,"v":0},{"t":2024.512,"v":14000},{"t":2024.517,"v":6000},{"t":2024.522,"v":22800},{"t":2024.526,"v":1500},{"t":2024.530,"v":11500},{"t":2024.534,"v":16500},{"t":2024.538,"v":3500},{"t":2024.542,"v":10000},{"t":2024.547,"v":19000},{"t":2024.551,"v":0},{"t":2024.555,"v":11000},{"t":2024.559,"v":5000},{"t":2024.563,"v":13500},{"t":2024.567,"v":1000},
      {"t":2024.571,"v":10500},{"t":2024.575,"v":0},{"t":2024.579,"v":10000},{"t":2024.583,"v":4000},{"t":2024.587,"v":10500},{"t":2024.591,"v":500},{"t":2024.595,"v":11000},{"t":2024.599,"v":6500},{"t":2024.603,"v":10500},{"t":2024.607,"v":0},{"t":2024.611,"v":18300},{"t":2024.615,"v":3000},{"t":2024.619,"v":10500},{"t":2024.623,"v":7000},{"t":2024.627,"v":10000},{"t":2024.631,"v":0},{"t":2024.635,"v":10500},{"t":2024.639,"v":5000},{"t":2024.643,"v":12500},{"t":2024.647,"v":1500},{"t":2024.651,"v":10500},{"t":2024.655,"v":8000},{"t":2024.659,"v":10500},{"t":2024.663,"v":0},{"t":2024.667,"v":11000},{"t":2024.671,"v":4500},{"t":2024.675,"v":10500},{"t":2024.679,"v":1000},{"t":2024.683,"v":10000},{"t":2024.687,"v":6000},{"t":2024.691,"v":10500},{"t":2024.695,"v":0},{"t":2024.700,"v":20900},{"t":2024.704,"v":2500},{"t":2024.708,"v":10500},{"t":2024.712,"v":7500},{"t":2024.716,"v":10000},{"t":2024.720,"v":0},{"t":2024.724,"v":10500},{"t":2024.728,"v":3500},{"t":2024.732,"v":10500},{"t":2024.736,"v":500},{"t":2024.740,"v":14000},{"t":2024.744,"v":6000},{"t":2024.748,"v":10500},{"t":2024.752,"v":0},{"t":2024.756,"v":10500},{"t":2024.760,"v":5000},{"t":2024.764,"v":10000},{"t":2024.768,"v":1500},{"t":2024.772,"v":10500},{"t":2024.776,"v":7000},{"t":2024.780,"v":10500},{"t":2024.784,"v":0},{"t":2024.788,"v":11000},{"t":2024.792,"v":4000},{"t":2024.796,"v":10500},{"t":2024.800,"v":500},{"t":2024.804,"v":10500},{"t":2024.808,"v":6500},{"t":2024.812,"v":10000},{"t":2024.816,"v":0},{"t":2024.820,"v":10500},{"t":2024.827,"v":13500},{"t":2024.831,"v":2000},{"t":2024.835,"v":10500},{"t":2024.839,"v":7500},{"t":2024.843,"v":10500},{"t":2024.847,"v":0},{"t":2024.851,"v":10000},{"t":2024.855,"v":4500},{"t":2024.859,"v":10500},{"t":2024.863,"v":1000},{"t":2024.867,"v":10500},{"t":2024.871,"v":6000},{"t":2024.875,"v":10500},{"t":2024.879,"v":0},{"t":2024.883,"v":10500},{"t":2024.887,"v":3000},{"t":2024.891,"v":10000},{"t":2024.895,"v":500},{"t":2024.899,"v":10500},{"t":2024.903,"v":5500},{"t":2024.907,"v":10500},{"t":2024.911,"v":0},{"t":2024.915,"v":10500},{"t":2024.919,"v":7000},{"t":2024.923,"v":10000},{"t":2024.927,"v":1500},{"t":2024.931,"v":10500},{"t":2024.935,"v":4000},{"t":2024.939,"v":10500},{"t":2024.943,"v":0},{"t":2024.947,"v":13000},{"t":2024.954,"v":21900},{"t":2024.958,"v":3000},{"t":2024.962,"v":10500},{"t":2024.966,"v":6000},{"t":2024.970,"v":10000},{"t":2024.974,"v":500},{"t":2024.980,"v":20000},{"t":2024.986,"v":5000},{"t":2024.992,"v":10500},{"t":2024.996,"v":4000},
      {"t":2025.000,"v":8900},{"t":2025.005,"v":1200},{"t":2025.018,"v":30900},{"t":2025.031,"v":20600},{"t":2025.038,"v":36000},{"t":2025.048,"v":50300},{"t":2025.059,"v":49000},{"t":2025.069,"v":62000},{"t":2025.079,"v":67000},{"t":2025.087,"v":60500},{"t":2025.094,"v":71000},{"t":2025.104,"v":73600},{"t":2025.112,"v":67000},{"t":2025.120,"v":71700},{"t":2025.130,"v":60500},{"t":2025.145,"v":60500},{"t":2025.153,"v":54200},{"t":2025.165,"v":47700},{"t":2025.176,"v":41300},{"t":2025.186,"v":32900},{"t":2025.196,"v":29600},{"t":2025.204,"v":11500},{"t":2025.211,"v":23200},{"t":2025.221,"v":500},{"t":2025.229,"v":23200},{"t":2025.239,"v":14700},{"t":2025.247,"v":10200},{"t":2025.254,"v":21200},{"t":2025.262,"v":500},{"t":2025.272,"v":11500},{"t":2025.285,"v":27000},{"t":2025.298,"v":34200},{"t":2025.305,"v":16700},{"t":2025.313,"v":29000},{"t":2025.321,"v":23200}
    ]
  },
  "encoding": {
    "x": {
      "field": "t",
      "type": "quantitative",
      "scale": {"domain": [2015.383, 2025.33], "nice": false, "zero": false},
      "axis": {
        "title": "Time",
        "values": [2016, 2017, 2018, 2019, 2020, 2021, 2022, 2023, 2024, 2025],
        "format": "d",
        "grid": true,
        "tickSize": 4,
        "labelFontSize": 11.5,
        "labelPadding": 3,
        "labelFlush": false,
        "titleFontSize": 11,
        "titleBaseline": "middle",
        "titleY": 32
      }
    },
    "y": {
      "field": "v",
      "type": "quantitative",
      "scale": {"domain": [0, 100000], "nice": false},
      "axis": {
        "title": "m3",
        "values": [0, 5000, 10000, 15000, 20000, 25000, 30000, 35000, 40000, 45000, 50000, 55000, 60000, 65000, 70000, 75000, 80000, 85000, 90000, 95000, 100000],
        "format": "d",
        "labelExpr": "datum.value % 10000 === 0 ? datum.label : ''",
        "grid": true,
        "gridOpacity": {"condition": {"test": "datum.value % 10000 === 0", "value": 1}, "value": 0},
        "tickSize": {"condition": {"test": "datum.value % 10000 === 0", "value": 4}, "value": 2.5},
        "labelFontSize": 12,
        "labelPadding": 1,
        "titleFontSize": 15,
        "titleAngle": -90,
        "titleBaseline": "middle",
        "titleX": -54,
        "titleY": 240
      }
    }
  },
  "layer": [
    {
      "data": {"name": "maxline"},
      "mark": {"type": "line", "strokeWidth": 2.5},
      "encoding": {
        "color": {
          "datum": "Effluente_Max",
          "type": "nominal",
          "scale": {"domain": ["Effluente_Max", "Effluent_Pond"], "range": ["#8a2b8e", "#ff8000"]},
          "legend": {"title": null}
        }
      }
    },
    {
      "data": {"name": "pond"},
      "mark": {"type": "line", "strokeWidth": 2.4},
      "encoding": {
        "color": {"datum": "Effluent_Pond", "type": "nominal"}
      }
    }
  ]
}
